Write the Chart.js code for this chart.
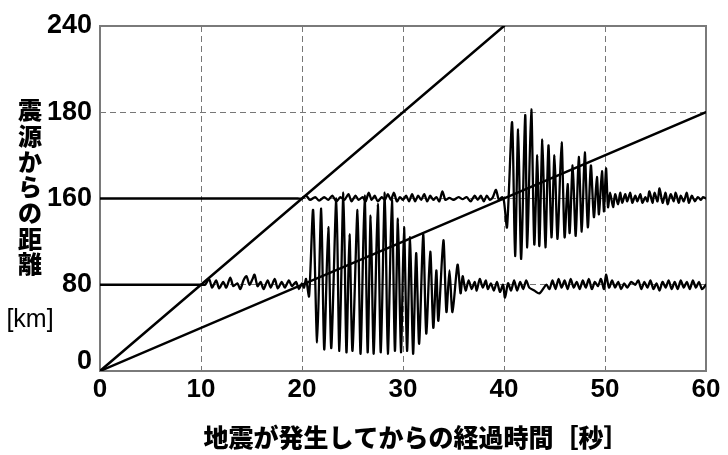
<!DOCTYPE html>
<html><head><meta charset="utf-8">
<script src="https://cdn.jsdelivr.net/npm/chart.js@4.4.1/dist/chart.umd.min.js"></script>
<style>html,body{margin:0;padding:0;background:#fff;}</style>
</head><body>
<canvas id="c" width="728" height="455"></canvas>
<script>
// ---- tick labels / titles ----
const xTickValues = [0, 10, 20, 30, 40, 50, 60];
const yTickLabels = ['0', '80', '160', '180', '240'];
const xTitle = '地震が発生してからの経過時間［秒］';
const yTitleChars = ['震', '源', 'か', 'ら', 'の', '距', '離'];
const yUnit = '[km]';

// ---- straight lines (P and S arrivals) ----
const pWaveT = [0, 40];
const pWaveKm = [0, 240];
const sWaveT = [0, 60];
const sWaveKm = [0, 180];

// ---- seismogram at the lower station ----
const seisAT = [0, 9.6, 10.0, 10.4, 10.8, 11.1, 11.5, 11.8, 12.2, 12.5, 12.9, 13.2, 13.6, 13.9, 14.2, 14.5, 14.8, 15.1, 15.3, 15.6, 15.9, 16.2, 16.6, 16.9, 17.3, 17.6, 18.0, 18.3, 18.7, 19.0, 19.4, 19.7, 20.0, 20.2, 20.4,
  20.7, 21.1, 21.5, 21.9, 22.2, 22.6, 22.9, 23.4, 23.7, 24.1, 24.4, 24.7, 25.0, 25.5, 25.8, 26.2, 26.5, 26.8, 27.1, 27.5, 27.8, 28.2, 28.5, 28.9, 29.2, 29.5, 29.8, 30.1, 30.4, 30.7, 31.0, 31.3, 31.6, 32.0, 32.3, 32.7, 33.0, 33.3, 33.5, 34.0, 34.3, 34.6, 34.9, 35.4, 35.7, 35.9,
  36.2, 36.5, 36.8, 37.1, 37.3, 37.6, 37.9, 38.2, 38.4, 38.7, 39.0, 39.3, 39.6, 39.9, 40.1, 40.4, 40.7, 41.0, 41.3, 41.6, 41.9, 42.2, 42.5, 43.0, 43.5, 44.2, 44.5, 44.8, 45.1, 45.4, 45.7, 46.0, 46.3, 46.6, 46.9, 47.2, 47.5, 47.8, 48.1, 48.4, 48.7, 49.0, 49.3, 49.6, 49.9, 50.1, 50.4, 50.7, 51.0, 51.3, 51.6, 51.9, 52.2, 52.6, 53.0, 53.3, 53.6, 53.9, 54.2, 54.5, 54.8, 55.1, 55.4, 55.7, 56.0, 56.3, 56.6, 56.9, 57.2, 57.5, 57.8, 58.1, 58.4, 58.7, 59.0, 59.3, 59.6, 60];
const seisAKm = [60, 60, 60, 60, 64, 58, 63, 57.5, 62, 58, 65, 59, 61, 57, 63, 66, 60, 64, 67, 59, 62, 57, 63, 58, 64, 57.5, 62, 58, 63, 59, 62, 57, 61, 58, 64,
  52, 112, 20, 113, 15, 100, 16, 120, 14, 124, 13, 95, 14, 112, 12, 122, 13, 108, 12, 116, 13, 124, 12, 119, 14, 106, 13, 100, 14, 93, 12, 82, 19, 95, 26, 83, 30, 70, 35, 91, 41, 70, 41, 74, 54, 66,
  56, 63, 57, 62, 56, 64, 58, 63, 57, 61, 56, 62, 55, 60, 51, 61, 56, 63, 56, 62, 57, 63, 58, 56, 54, 60, 57, 63, 57, 64, 58, 63, 57, 64, 58, 62, 57, 63, 58, 64, 57, 62, 59, 64, 57, 67, 58, 63, 58, 62, 57, 61, 58, 62, 60, 63, 57, 62, 58, 63, 57, 61, 56, 62, 58, 63, 57, 62, 57, 63, 58, 62, 57, 63, 58, 62, 57, 60];

// ---- seismogram at the upper station ----
const seisBT = [0, 19.6, 20.0, 20.4, 20.8, 21.3, 21.7, 22.2, 22.6, 23.0, 23.4, 23.8, 24.2, 24.6, 24.9, 25.3, 25.6, 26.0, 26.3, 26.6, 26.9, 27.2, 27.5, 27.9, 28.2, 28.5, 28.8, 29.1, 29.4, 29.7, 30.0, 30.3, 30.6, 30.9, 31.2, 31.5, 31.8, 32.1, 32.4, 32.7, 33.0, 33.3, 33.6, 33.9, 34.2, 34.6, 35.0, 35.5, 35.9, 36.3, 36.7, 37.1, 37.4, 37.7, 38.0, 38.3, 38.6, 38.9, 39.2, 39.5, 39.8, 40.0,
  40.3, 40.8, 41.1, 41.4, 41.7, 42.1, 42.3, 42.7, 43.0, 43.3, 43.5, 43.8, 44.1, 44.4, 44.7, 45.0, 45.3, 45.7, 46.0, 46.3, 46.5, 46.8, 47.1, 47.4, 47.7, 48.0, 48.3, 48.6, 48.9, 49.2, 49.4, 49.7, 49.9, 50.1, 50.3,
  50.5, 50.8, 51.0, 51.3, 51.5, 51.7, 52.0, 52.2, 52.5, 52.7, 53.0, 53.2, 53.5, 53.7, 54.0, 54.2, 54.4, 54.7, 54.9, 55.2, 55.4, 55.7, 56.0, 56.2, 56.5, 56.8, 57.0, 57.3, 57.5, 57.8, 58.1, 58.3, 58.6, 58.9, 59.2, 59.5, 59.7, 60.0];
const seisBKm = [120, 120, 120, 122, 119, 121, 118.5, 121, 119, 122, 118, 121, 119, 123, 118, 122, 119, 121, 118, 124, 119, 122, 118, 121, 119, 123, 119, 124, 118, 121, 119, 122, 118, 123, 118, 122, 119, 123, 118, 122, 119, 121, 118, 125, 119, 120.5, 119, 121, 119.5, 121, 118, 122, 119, 122, 118, 122, 119, 121, 126, 119, 121, 118,
  100, 173, 80, 168, 78, 178, 86, 182, 88, 150, 87, 161, 86, 157, 93, 150, 92, 159, 93, 130, 96, 143, 94, 149, 97, 152, 100, 143, 107, 135, 109, 139, 111, 141, 114,
  124, 114, 123, 116, 124, 117, 123, 118, 124, 117, 122, 118, 123, 117, 121, 118, 125, 117, 124, 118, 127, 117, 124, 116, 123, 118, 124, 117, 122, 118, 124, 117, 122, 118, 121, 119, 121, 120];

const zip = (t, v) => t.map((x, i) => ({ x: x, y: v[i] }));

const FONT_NUM = '"Liberation Sans", Arial, sans-serif';
const FONT_JP = '"Noto Sans CJK JP", sans-serif';

const lineStyle = { borderColor: '#000', borderWidth: 2.5, pointRadius: 0, showLine: true, tension: 0, fill: false, borderJoinStyle: 'round', borderCapStyle: 'round' };
const waveStyle = Object.assign({}, lineStyle, { borderWidth: 2.3, tension: 0.25 });

const framePlugin = {
  id: 'frame',
  beforeDatasetsDraw(chart) {
    const { ctx, chartArea: a } = chart;
    ctx.save();
    ctx.strokeStyle = '#7a7a7a';
    ctx.lineWidth = 2;
    ctx.strokeRect(a.left, a.top, a.right - a.left, a.bottom - a.top);
    ctx.restore();
  },
  afterDraw(chart) {
    const { ctx } = chart;
    ctx.save();
    ctx.fillStyle = '#000';
    ctx.textAlign = 'center';
    ctx.textBaseline = 'middle';
    ctx.font = '900 25px ' + FONT_JP;
    ctx.fillText(xTitle, 416, 437);
    ctx.font = '900 24px ' + FONT_JP;
    yTitleChars.forEach((ch, i) => ctx.fillText(ch, 30, 110 + i * 25.7));
    ctx.font = '25px ' + FONT_NUM;
    ctx.fillText(yUnit, 30, 320);
    ctx.restore();
  }
};

new Chart(document.getElementById('c'), {
  type: 'scatter',
  data: {
    datasets: [
      Object.assign({ label: 'P', data: zip(pWaveT, pWaveKm) }, lineStyle),
      Object.assign({ label: 'S', data: zip(sWaveT, sWaveKm) }, lineStyle),
      Object.assign({ label: 'A', data: zip(seisAT, seisAKm) }, waveStyle),
      Object.assign({ label: 'B', data: zip(seisBT, seisBKm) }, waveStyle)
    ]
  },
  options: {
    responsive: false,
    animation: false,
    devicePixelRatio: 1,
    layout: { padding: { top: 26, right: 22, left: 0, bottom: 0 } },
    plugins: { legend: { display: false }, tooltip: { enabled: false } },
    scales: {
      x: {
        type: 'linear', min: 0, max: 60,
        afterBuildTicks: s => { s.ticks = xTickValues.map(v => ({ value: v })); },
        afterFit: s => { s.height = 84; },
        grid: { color: c => (c.index === 0 || c.index === xTickValues.length - 1) ? 'rgba(0,0,0,0)' : '#777', lineWidth: 1, drawTicks: false },
        border: { display: false, dash: [6, 4] },
        ticks: { color: '#000', padding: 3, font: { family: FONT_NUM, size: 26, weight: 'bold' }, maxRotation: 0, callback: v => String(v) }
      },
      y: {
        type: 'linear', min: 0, max: 240,
        ticks: {
          stepSize: 60, color: '#000', padding: 8,
          font: c => ({ family: FONT_NUM, size: 27, weight: 'bold', lineHeight: c.index === 0 ? '18px' : 1.2 }),
          callback: (v, i) => i === 0 ? [yTickLabels[0], ''] : yTickLabels[i]
        },
        afterFit: s => { s.width = 100; },
        grid: { color: c => (c.index === 0 || c.index === yTickLabels.length - 1) ? 'rgba(0,0,0,0)' : '#777', lineWidth: 1, drawTicks: false },
        border: { display: false, dash: [6, 4] }
      }
    }
  },
  plugins: [framePlugin]
});
</script>
</body></html>
